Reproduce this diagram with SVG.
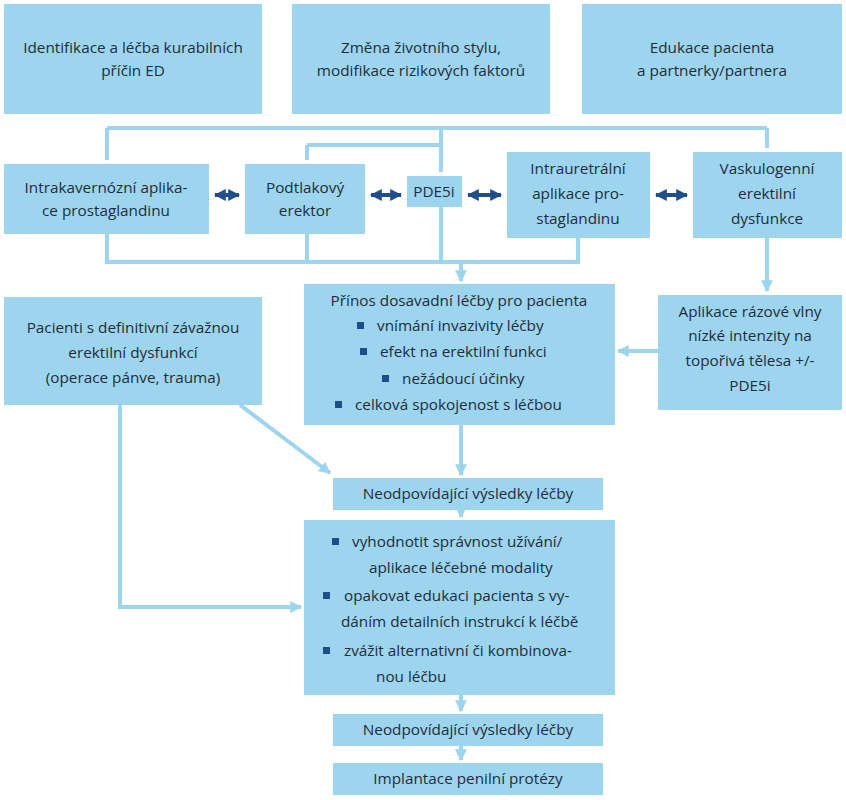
<svg xmlns="http://www.w3.org/2000/svg" width="846" height="800" viewBox="0 0 846 800">
<defs>
<style>
.b{fill:#9dd5ee}
text{font-family:"Open Sans",sans-serif;font-size:15.3px;fill:#1e2d3c;text-anchor:middle}
text.s{text-anchor:start}
.c{fill:none;stroke:#9dd5ee;stroke-width:4}
.q{fill:#1f4e8c}
.d{fill:none;stroke:#1f4e8c;stroke-width:4}
</style>
<marker id="a" viewBox="0 0 10 10" refX="9" refY="5" markerWidth="3" markerHeight="3" orient="auto"><path d="M0,0L10,5L0,10z" fill="#9dd5ee"/></marker>
<marker id="k" viewBox="0 0 10 10" refX="9" refY="5" markerWidth="3" markerHeight="3" orient="auto-start-reverse"><path d="M0,0L10,5L0,10z" fill="#1f4e8c"/></marker>
</defs>
<g id="connectors">
<path class="c" d="M107,128H767M107,128V160M767,128V148M441,128V172M307,145H441M307,145V160"/>
<path class="c" d="M107,234V262H578V238M307,234V262M441,207V262"/>
<path class="c" d="M461,262V281" marker-end="url(#a)"/>
<path class="c" d="M767,238V291" marker-end="url(#a)"/>
<path class="c" d="M658,351H618" marker-end="url(#a)"/>
<path class="c" d="M461,425V475" marker-end="url(#a)"/>
<path class="c" d="M240,405L330,473" marker-end="url(#a)"/>
<path class="c" d="M461,510V517" marker-end="url(#a)"/>
<path class="c" d="M120,405V607H301" marker-end="url(#a)"/>
<path class="c" d="M461,695V711" marker-end="url(#a)"/>
<path class="c" d="M461,746V760" marker-end="url(#a)"/>
<path class="d" d="M215,195H239" marker-start="url(#k)" marker-end="url(#k)"/>
<path class="d" d="M371,195H401" marker-start="url(#k)" marker-end="url(#k)"/>
<path class="d" d="M468,195H501" marker-start="url(#k)" marker-end="url(#k)"/>
<path class="d" d="M656,195H687" marker-start="url(#k)" marker-end="url(#k)"/>
</g>
<g id="n1"><rect class="b" x="4" y="4" width="258" height="110"/><text x="133" y="53">Identifikace a léčba kurabilních</text><text x="133" y="76">příčin ED</text></g>
<g id="n2"><rect class="b" x="292" y="4" width="258" height="110"/><text x="421" y="53">Změna životního stylu,</text><text x="421" y="76">modifikace rizikových faktorů</text></g>
<g id="n3"><rect class="b" x="582" y="4" width="260" height="110"/><text x="712" y="53">Edukace pacienta</text><text x="712" y="76">a partnerky/partnera</text></g>
<g id="n4"><rect class="b" x="4" y="164" width="205" height="70"/><text x="106" y="193">Intrakavernózní aplika-</text><text x="106" y="216">ce prostaglandinu</text></g>
<g id="n5"><rect class="b" x="245" y="164" width="120" height="70"/><text x="305" y="193">Podtlakový</text><text x="305" y="216">erektor</text></g>
<g id="n6"><rect class="b" x="407" y="176" width="55" height="31"/><text x="434" y="197">PDE5i</text></g>
<g id="n7"><rect class="b" x="507" y="152" width="143" height="86"/><text x="578" y="174">Intrauretrální</text><text x="578" y="199">aplikace pro-</text><text x="578" y="224">staglandinu</text></g>
<g id="n8"><rect class="b" x="693" y="152" width="149" height="86"/><text x="767" y="174">Vaskulogenní</text><text x="767" y="199">erektilní</text><text x="767" y="224">dysfunkce</text></g>
<g id="n9"><rect class="b" x="304" y="284" width="311" height="141"/>
<text x="459" y="306">Přínos dosavadní léčby pro pacienta</text>
<rect class="q" x="357" y="322" width="7" height="7"/><text class="s" x="377" y="331">vnímání invazivity léčby</text>
<rect class="q" x="360" y="348" width="7" height="7"/><text class="s" x="380" y="357">efekt na erektilní funkci</text>
<rect class="q" x="382" y="375" width="7" height="7"/><text class="s" x="402" y="384">nežádoucí účinky</text>
<rect class="q" x="335" y="401" width="7" height="7"/><text class="s" x="355" y="410">celková spokojenost s léčbou</text></g>
<g id="n10"><rect class="b" x="658" y="295" width="184" height="115"/><text x="750" y="317">Aplikace rázové vlny</text><text x="750" y="341">nízké intenzity na</text><text x="750" y="366">topořivá tělesa +/-</text><text x="750" y="391">PDE5i</text></g>
<g id="n11"><rect class="b" x="4" y="297" width="258" height="108"/><text x="133" y="333">Pacienti s definitivní závažnou</text><text x="133" y="358">erektilní dysfunkcí</text><text x="133" y="383">(operace pánve, trauma)</text></g>
<g id="n12"><rect class="b" x="333" y="478" width="270" height="32"/><text x="468" y="499">Neodpovídající výsledky léčby</text></g>
<g id="n13"><rect class="b" x="304" y="520" width="311" height="175"/>
<rect class="q" x="332" y="538" width="7" height="7"/><text class="s" x="352" y="547">vyhodnotit správnost užívání/</text>
<text class="s" x="369" y="573">aplikace léčebné modality</text>
<rect class="q" x="323" y="592" width="7" height="7"/><text class="s" x="344" y="601">opakovat edukaci pacienta s vy-</text>
<text class="s" x="341" y="627">dáním detailních instrukcí k léčbě</text>
<rect class="q" x="323" y="647" width="7" height="7"/><text class="s" x="344" y="656">zvážit alternativní či kombinova-</text>
<text class="s" x="376" y="682">nou léčbu</text></g>
<g id="n14"><rect class="b" x="333" y="714" width="270" height="32"/><text x="468" y="735">Neodpovídající výsledky léčby</text></g>
<g id="n15"><rect class="b" x="333" y="763" width="270" height="32"/><text x="468" y="784">Implantace penilní protézy</text></g>
</svg>
